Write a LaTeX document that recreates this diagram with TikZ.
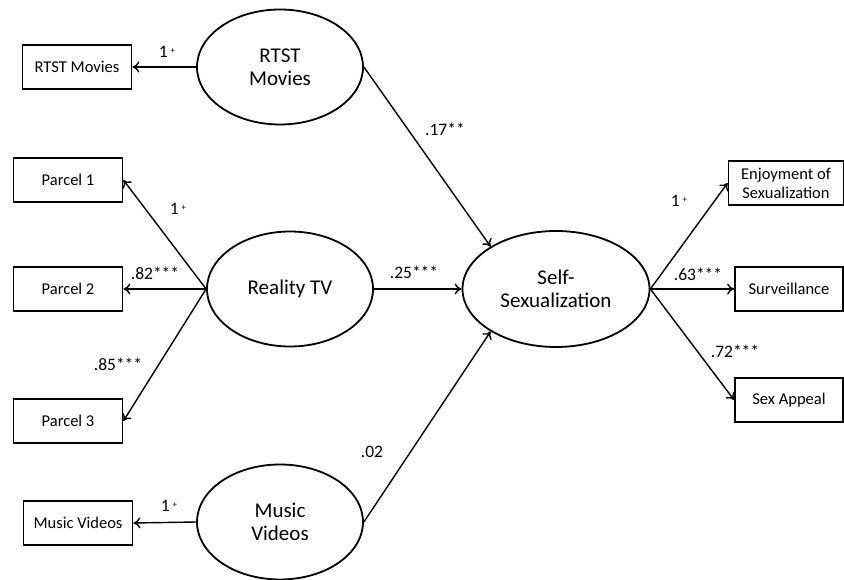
\documentclass[tikz,border=0pt]{standalone}
\usepackage{fontspec}
\setmainfont{Carlito}
\usetikzlibrary{shapes.geometric,arrows.meta}

\newcommand{\fixed}{1\,\raisebox{0.55ex}{\fontsize{9}{9}\selectfont+}}

\begin{document}
\begin{tikzpicture}
  [x=1pt,y=-1pt,>={To[length=7pt,width=11pt]},
   latent/.style={ellipse,draw,line width=1.8pt,minimum width=166pt,minimum height=115pt,
     inner sep=0pt,align=center,font=\fontsize{21}{23}\selectfont},
   obs/.style={rectangle,draw,line width=1.8pt,minimum width=109pt,minimum height=44pt,
     inner sep=0pt,align=center,font=\fontsize{16.5}{19}\selectfont},
   coef/.style={inner sep=0pt,font=\fontsize{17.5}{20}\selectfont},
   path/.style={->,line width=1.4pt}]
  \useasboundingbox (0,0) rectangle (844,580);

  % latent variables
  \node[latent] (rtst) at (280,67) {RTST\\Movies};
  \node[latent] (rtv) at (290,289) {Reality TV};
  \node[latent] (mv) at (280,522) {Music\\Videos};
  \node[latent,minimum width=187pt,minimum height=116pt] (ss) at (556,289) {Self-\\Sexualization};

  % indicators
  \node[obs] (rbox) at (77,67) {RTST Movies};
  \node[obs] (p1) at (68,180) {Parcel 1};
  \node[obs] (p2) at (68,289) {Parcel 2};
  \node[obs] (p3) at (68,421) {Parcel 3};
  \node[obs] (mbox) at (78,523) {Music Videos};
  \node[obs,minimum width=115pt] (enj) at (786,183) {Enjoyment of\\Sexualization};
  \node[obs,minimum width=108pt] (sur) at (789,289) {Surveillance};
  \node[obs,minimum width=108pt] (sxa) at (789,400) {Sex Appeal};

  \foreach \from/\to in {rtst/rbox,rtv/p1,rtv/p2,rtv/p3,mv/mbox}
    \draw[path] (\from.west) -- (\to.east);
  \foreach \to in {enj,sur,sxa}
    \draw[path] (ss.east) -- (\to.west);
  \draw[path] (rtst.east) -- (ss.147);
  \draw[path] (rtv) -- (ss);
  \draw[path] (mv.east) -- (ss.213);

  % coefficients
  \node[coef] (c1) at (167,52) {\fixed};
  \node[coef] (c2) at (445,129) {.17**};
  \node[coef] (c3) at (178,209) {\fixed};
  \node[coef] (c4) at (155,273) {.82***};
  \node[coef] (c5) at (118,364) {.85***};
  \node[coef] (c6) at (414,272) {.25***};
  \node[coef] (c7) at (372,452) {.02};
  \node[coef] (c8) at (169,506) {\fixed};
  \node[coef] (c9) at (679,201) {\fixed};
  \node[coef] (c10) at (698,274) {.63***};
  \node[coef] (c11) at (735,351) {.72***};
\end{tikzpicture}
\end{document}
